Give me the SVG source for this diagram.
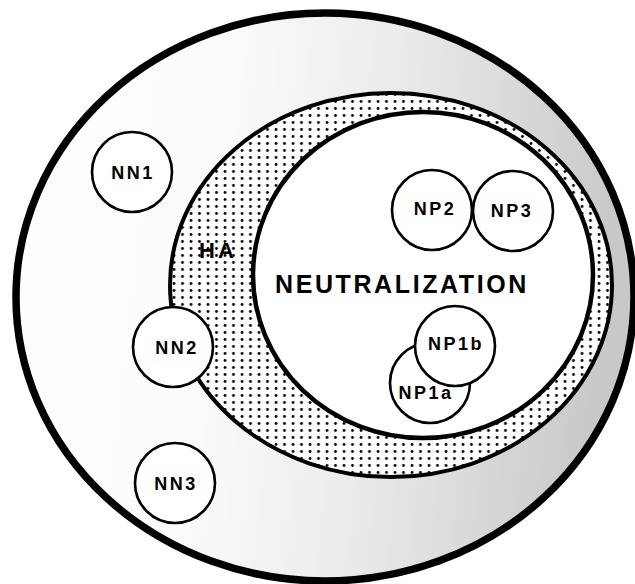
<svg xmlns="http://www.w3.org/2000/svg" width="635" height="584" viewBox="0 0 635 584">
  <style>
    .lbl { font-family: "Liberation Sans", Arial, sans-serif; font-weight: bold; fill: #000; text-anchor: middle; }
    .small { font-size: 18px; letter-spacing: 2.5px; }
    .node { fill: #fff; stroke: #000; stroke-width: 2.6; }
  </style>
  <defs>
    <linearGradient id="shade" x1="0" y1="0" x2="1" y2="0.1">
      <stop offset="0" stop-color="#ffffff"/>
      <stop offset="0.35" stop-color="#fbfbfb"/>
      <stop offset="0.62" stop-color="#ebebeb"/>
      <stop offset="0.85" stop-color="#d6d6d6"/>
      <stop offset="1" stop-color="#c8c8c8"/>
    </linearGradient>
    <pattern id="dots" patternUnits="userSpaceOnUse" width="8.5" height="7" x="0" y="0">
      <rect width="8.5" height="7" fill="#fff"/>
      <circle cx="4" cy="3.5" r="1.4" fill="#000"/>
    </pattern>
  </defs>

  <rect width="635" height="584" fill="#fff"/>

  <g id="outer">
    <ellipse cx="325" cy="297" rx="309" ry="284" fill="url(#shade)" stroke="#000" stroke-width="7.5"/>
  </g>

  <g id="HA">
    <ellipse cx="391" cy="285" rx="221" ry="192" fill="url(#dots)" stroke="#000" stroke-width="4"/>
    <text class="lbl" x="218" y="258" font-size="22" letter-spacing="3">HA</text>
  </g>

  <g id="neutralization">
    <ellipse cx="423" cy="275" rx="170" ry="163" fill="#fff" stroke="#000" stroke-width="4.5"/>
    <text class="lbl" x="402" y="293" font-size="25" letter-spacing="2.6">NEUTRALIZATION</text>
  </g>

  <g id="connectors"></g>

  <g id="NN1">
    <circle class="node" cx="132" cy="172" r="40"/>
    <text class="lbl small" x="133" y="179">NN1</text>
  </g>
  <g id="NN2">
    <circle class="node" cx="173" cy="347" r="40"/>
    <text class="lbl small" x="177" y="354">NN2</text>
  </g>
  <g id="NN3">
    <circle class="node" cx="175" cy="483" r="40"/>
    <text class="lbl small" x="176" y="490">NN3</text>
  </g>
  <g id="NP2">
    <circle class="node" cx="432" cy="210" r="40"/>
    <text class="lbl small" x="435" y="215">NP2</text>
  </g>
  <g id="NP3">
    <circle class="node" cx="513" cy="211" r="40"/>
    <text class="lbl small" x="512" y="217">NP3</text>
  </g>
  <g id="NP1a">
    <circle class="node" cx="430" cy="383" r="40"/>
    <text class="lbl small" x="426" y="399">NP1a</text>
  </g>
  <g id="NP1b">
    <circle class="node" cx="455" cy="346" r="40"/>
    <text class="lbl small" x="456" y="350">NP1b</text>
  </g>
</svg>
